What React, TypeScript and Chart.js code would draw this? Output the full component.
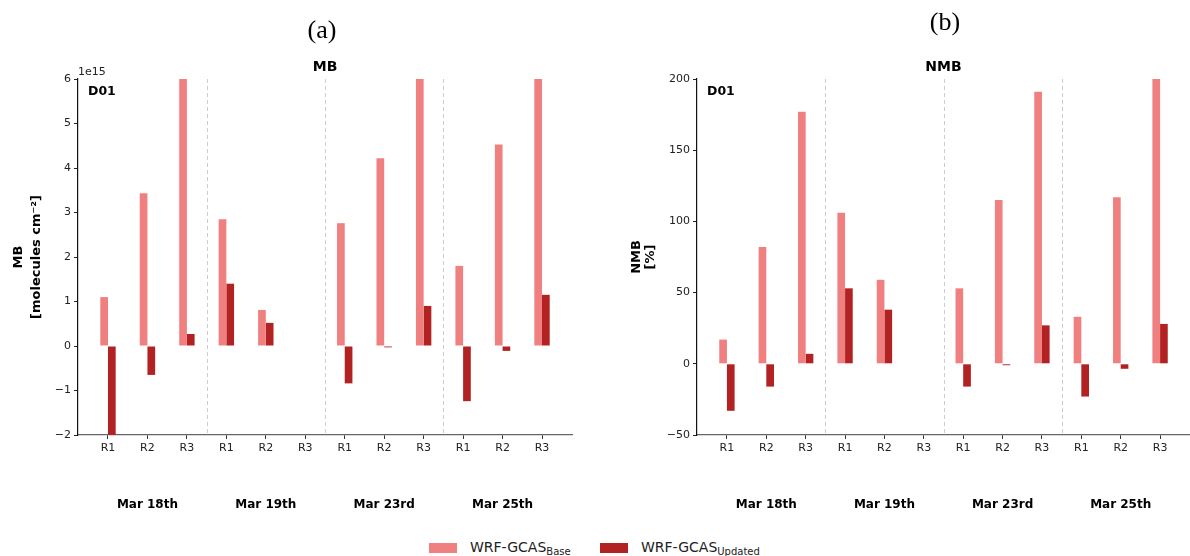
import React, { useEffect, useRef } from "react";
import { Chart, registerables } from "chart.js";

Chart.register(...registerables);

const xLabels = ["R1", "R2", "R3", "R1", "R2", "R3", "R1", "R2", "R3", "R1", "R2", "R3"];
const dateLabels = ["Mar 18th", "Mar 19th", "Mar 23rd", "Mar 25th"];
const dateCenters = [1, 4, 7, 10];
const separators = [2.5, 5.5, 8.5];

// MB in units of 1e15 molecules cm^-2
const mbBase = [1.1, 3.43, 6.5, 2.85, 0.81, null, 2.76, 4.22, 6.5, 1.8, 4.53, 6.5];
const mbUpdated = [-2.3, -0.65, 0.27, 1.4, 0.52, null, -0.84, -0.03, 0.9, -1.24, -0.11, 1.15];
const mbTicks = [-2, -1, 0, 1, 2, 3, 4, 5, 6];

// NMB in %
const nmbBase = [17, 82, 177, 106, 59, null, 53, 115, 191, 33, 117, 205];
const nmbUpdated = [-33, -16, 7, 53, 38, null, -16, -1, 27, -23, -3.5, 28];
const nmbTicks = [-50, 0, 50, 100, 150, 200];

const BASE_COLOR = "#F08080";
const UPD_COLOR = "#B22222";
const FONT = "'DejaVu Sans', sans-serif";

type Spec = {
  left: number;
  yWidth: number;
  rightPad: number;
  base: (number | null)[];
  updated: (number | null)[];
  yTicks: number[];
  title: string;
  yTitle: string[];
  yTitleX: number[];
  offsetText?: string;
};

const W = 595;
const H = 520;
const TOP = 79;
const BOTTOM = 435;
const XAXIS_H = 30;

function BarChart({ spec }: { spec: Spec }) {
  const ref = useRef<HTMLCanvasElement | null>(null);
  useEffect(() => {
    const canvas = ref.current!;
    const overlay = {
      id: "overlay",
      beforeDatasetsDraw(chart: any) {
        const { ctx, chartArea, scales } = chart;
        ctx.save();
        ctx.strokeStyle = "#cccccc";
        ctx.lineWidth = 1;
        ctx.setLineDash([4, 3]);
        separators.forEach((s) => {
          const x = Math.round(scales.x.getPixelForValue(s)) + 0.5;
          ctx.beginPath();
          ctx.moveTo(x, chartArea.top);
          ctx.lineTo(x, chartArea.bottom);
          ctx.stroke();
        });
        ctx.restore();
      },
      afterDraw(chart: any) {
        const { ctx, chartArea, scales } = chart;
        ctx.save();
        ctx.fillStyle = "#000";
        ctx.textAlign = "center";
        ctx.textBaseline = "middle";
        ctx.font = `bold 14px ${FONT}`;
        ctx.fillText(spec.title, (chartArea.left + chartArea.right) / 2, 67);
        ctx.font = `bold 12px ${FONT}`;
        dateLabels.forEach((d, i) => {
          ctx.fillText(d, scales.x.getPixelForValue(dateCenters[i]), 505);
        });
        ctx.textAlign = "left";
        ctx.font = `bold 12.5px ${FONT}`;
        ctx.fillText("D01", chartArea.left + 10, 92);
        if (spec.offsetText) {
          ctx.font = `11px ${FONT}`;
          ctx.fillStyle = "#222";
          ctx.textBaseline = "alphabetic";
          ctx.fillText(spec.offsetText, chartArea.left, 75);
        }
        ctx.fillStyle = "#000";
        ctx.font = `bold 13px ${FONT}`;
        ctx.textAlign = "center";
        ctx.textBaseline = "middle";
        const cy = (chartArea.top + chartArea.bottom) / 2;
        spec.yTitle.forEach((t, i) => {
          ctx.save();
          ctx.translate(spec.yTitleX[i], cy);
          ctx.rotate(-Math.PI / 2);
          ctx.fillText(t, 0, 0);
          ctx.restore();
        });
        ctx.restore();
      },
    };
    const chart = new Chart(canvas, {
      type: "bar",
      data: {
        datasets: [
          {
            label: "Base",
            data: spec.base.map((v, i) => ({ x: i, y: v })) as any,
            backgroundColor: BASE_COLOR,
            categoryPercentage: 0.39,
            barPercentage: 1,
          },
          {
            label: "Updated",
            data: spec.updated.map((v, i) => ({ x: i, y: v })) as any,
            backgroundColor: UPD_COLOR,
            categoryPercentage: 0.39,
            barPercentage: 1,
          },
        ],
      },
      plugins: [overlay],
      options: {
        responsive: false,
        animation: false,
        devicePixelRatio: 1,
        layout: {
          padding: { left: 0, right: spec.rightPad, top: TOP, bottom: H - BOTTOM - XAXIS_H },
        },
        plugins: { legend: { display: false }, title: { display: false }, tooltip: { enabled: false } },
        scales: {
          x: {
            type: "linear",
            min: -0.76,
            max: 11.76,
            offset: false,
            afterBuildTicks: (s: any) => {
              s.ticks = xLabels.map((_, i) => ({ value: i }));
            },
            afterFit: (s: any) => {
              s.height = XAXIS_H;
            },
            ticks: {
              callback: (v: any) => xLabels[Math.round(Number(v))],
              font: { family: FONT, size: 11 },
              color: "#222",
              padding: 3,
              maxRotation: 0,
              autoSkip: false,
            },
            grid: { display: true, offset: false, drawOnChartArea: false, drawTicks: true, tickLength: 4, color: "#333" },
            border: { display: true, color: "#666", width: 1.3 },
          },
          y: {
            min: spec.yTicks[0],
            max: spec.yTicks[spec.yTicks.length - 1],
            afterBuildTicks: (s: any) => {
              s.ticks = spec.yTicks.map((v) => ({ value: v }));
            },
            afterFit: (s: any) => {
              s.width = spec.yWidth;
            },
            ticks: {
              callback: (v: any) => String(v).replace("-", "\u2212"),
              font: { family: FONT, size: 11 },
              color: "#222",
              padding: 3,
            },
            grid: { display: true, drawOnChartArea: false, drawTicks: true, tickLength: 4, color: "#222" },
            border: { display: true, color: "#111", width: 1.2 },
          },
        },
      },
    });
    return () => chart.destroy();
  }, [spec]);
  return (
    <canvas
      ref={ref}
      width={W}
      height={H}
      style={{ position: "absolute", left: spec.left, top: 0, width: W, height: H }}
    />
  );
}

const specA: Spec = {
  left: 0,
  yWidth: 78,
  rightPad: 23,
  base: mbBase,
  updated: mbUpdated,
  yTicks: mbTicks,
  title: "MB",
  yTitle: ["MB", "[molecules cm\u207B\u00B2]"],
  yTitleX: [19, 37],
  offsetText: "1e15",
};

const specB: Spec = {
  left: 595,
  yWidth: 102,
  rightPad: 0,
  base: nmbBase,
  updated: nmbUpdated,
  yTicks: nmbTicks,
  title: "NMB",
  yTitle: ["NMB", "[%]"],
  yTitleX: [42, 56],
};

export default function App() {
  useEffect(() => {
    document.body.style.margin = "0";
  }, []);
  const serif = "'Liberation Serif', 'Times New Roman', serif";
  const legendText: React.CSSProperties = {
    position: "absolute",
    top: 539,
    fontFamily: FONT,
    fontSize: 14,
    color: "#222",
    whiteSpace: "nowrap",
    lineHeight: "16px",
  };
  const sub: React.CSSProperties = { fontSize: 10, verticalAlign: "-3px", lineHeight: 0 };
  return (
    <div style={{ position: "relative", width: 1190, height: 556, background: "#fff", overflow: "hidden" }}>
      <BarChart spec={specA} />
      <BarChart spec={specB} />
      <div style={{ position: "absolute", left: 272, width: 100, top: 14, textAlign: "center", fontFamily: serif, fontSize: 26, lineHeight: "32px" }}>(a)</div>
      <div style={{ position: "absolute", left: 895, width: 100, top: 6, textAlign: "center", fontFamily: serif, fontSize: 26, lineHeight: "32px" }}>(b)</div>
      <div style={{ position: "absolute", left: 429, top: 543, width: 28, height: 10, background: BASE_COLOR }} />
      <div style={{ ...legendText, left: 470 }}>
        WRF-GCAS<sub style={sub}>Base</sub>
      </div>
      <div style={{ position: "absolute", left: 600, top: 543, width: 28, height: 10, background: UPD_COLOR }} />
      <div style={{ ...legendText, left: 641 }}>
        WRF-GCAS<sub style={sub}>Updated</sub>
      </div>
    </div>
  );
}
